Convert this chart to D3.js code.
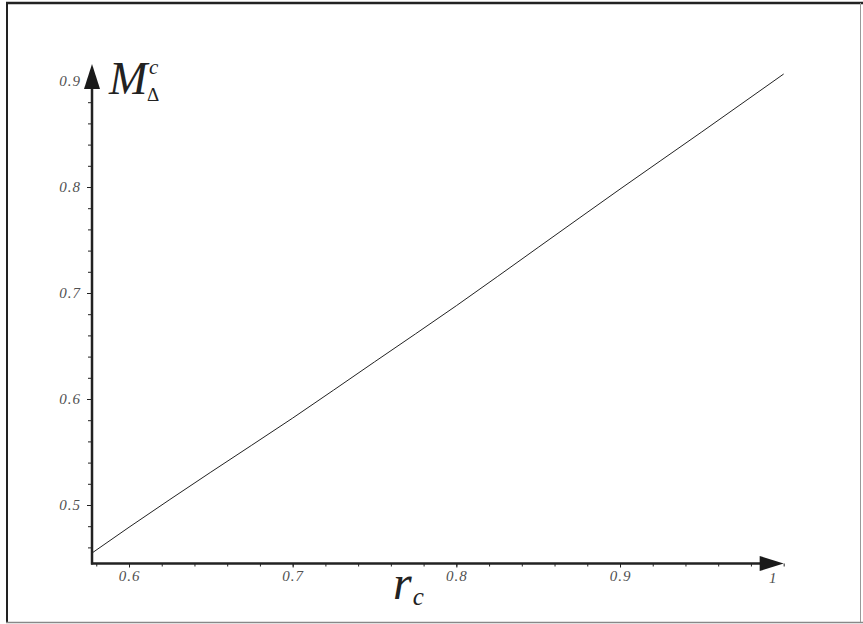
<!DOCTYPE html>
<meta charset="utf-8">
<script src="https://d3js.org/d3.v7.min.js"></script>
<style>
body { margin: 0; background: #fff; }
.tick line { stroke: #222; }
.axis path.domain { display: none; }
.ttl { font-family: "Liberation Serif", "Times New Roman", serif; fill: #222; }
</style>
<svg width="863" height="624"></svg>
<script>

// data
var rc = [0.5774, 0.6, 0.65, 0.7, 0.75, 0.8, 0.85, 0.9, 0.95, 1.0];
var mdelta = [0.4547, 0.479, 0.531, 0.582, 0.635, 0.688, 0.743, 0.798, 0.852, 0.9066];
var xTicks = [0.6, 0.7, 0.8, 0.9, 1];
var yTicks = [0.5, 0.6, 0.7, 0.8, 0.9];
var xMin = 0.5774, xMax = 1.0;
var yMin = 0.4448, yMax = 0.916;

var svg = d3.select("svg");

// frame
svg.append("line").attr("x1", 7).attr("x2", 7).attr("y1", 3).attr("y2", 622)
    .attr("stroke", "#222").attr("stroke-width", 2);
svg.append("line").attr("x1", 6).attr("x2", 863).attr("y1", 3).attr("y2", 3)
    .attr("stroke", "#222").attr("stroke-width", 2.5);
svg.append("line").attr("x1", 6).attr("x2", 863).attr("y1", 622.5).attr("y2", 622.5)
    .attr("stroke", "#888").attr("stroke-width", 1.5);
svg.append("line").attr("x1", 860.5).attr("x2", 860.5).attr("y1", 3).attr("y2", 622)
    .attr("stroke", "#999").attr("stroke-width", 1);

var x = d3.scaleLinear().domain([0.6, 0.9]).range([129, 620]);
var y = d3.scaleLinear().domain([0.5, 0.9]).range([505, 81]);

var x0 = x(xMin), y0 = y(yMin);

// minor ticks
var xMinor = d3.range(0.58, 1.001, 0.02);
var yMinor = d3.range(0.46, 0.901, 0.02);

svg.append("g").attr("class", "axis")
    .attr("transform", "translate(0," + y0 + ")")
    .call(d3.axisBottom(x).tickValues(xMinor).tickSize(3).tickFormat(""));
svg.append("g").attr("class", "axis")
    .attr("transform", "translate(" + x0 + ",0)")
    .call(d3.axisLeft(y).tickValues(yMinor).tickSize(4).tickFormat(""));

// major ticks + labels
var gx = svg.append("g").attr("class", "axis")
    .attr("transform", "translate(0," + y0 + ")")
    .call(d3.axisBottom(x).tickValues(xTicks.slice(0, 4)).tickSize(4).tickPadding(3)
      .tickFormat(d3.format(".1f")));
var gy = svg.append("g").attr("class", "axis")
    .attr("transform", "translate(" + x0 + ",0)")
    .call(d3.axisLeft(y).tickValues(yTicks).tickSize(5).tickPadding(6)
      .tickFormat(d3.format(".1f")));

[gx, gy].forEach(function(g) {
  g.attr("font-family", null).attr("font-size", null);
  g.selectAll(".tick text")
    .style("font-family", "'Liberation Serif', 'Times New Roman', serif")
    .style("font-style", "italic")
    .style("font-size", "15px")
    .style("letter-spacing", "1px")
    .style("fill", "#505050");
});

// label "1" sits under the arrow
svg.append("text")
    .attr("x", x(1) - 11).attr("y", y0 + 19)
    .attr("text-anchor", "middle")
    .style("font-family", "'Liberation Serif', 'Times New Roman', serif")
    .style("font-style", "italic").style("font-size", "15px").style("fill", "#505050")
    .text(d3.format("d")(xTicks[4]));

// axis lines with arrows
svg.append("line").attr("x1", x0 - 1).attr("x2", x(xMax) - 20).attr("y1", y0).attr("y2", y0)
    .attr("stroke", "#222").attr("stroke-width", 2.5);
svg.append("line").attr("x1", x0).attr("x2", x0).attr("y1", y0 + 1).attr("y2", y(yMax) + 20)
    .attr("stroke", "#222").attr("stroke-width", 2.5);

svg.append("path")
    .attr("d", "M" + x(xMax) + "," + y0 + "L" + (x(xMax) - 24) + "," + (y0 - 7.5) + "L" + (x(xMax) - 24) + "," + (y0 + 7.5) + "Z")
    .attr("fill", "#1a1a1a");
svg.append("path")
    .attr("d", "M" + x0 + "," + y(yMax) + "L" + (x0 - 8) + "," + (y(yMax) + 25) + "L" + (x0 + 8) + "," + (y(yMax) + 25) + "Z")
    .attr("fill", "#1a1a1a");

// the curve
var line = d3.line()
    .x(function(d, i) { return x(rc[i]); })
    .y(function(d) { return y(d); })
    .curve(d3.curveMonotoneX);

svg.append("path")
    .datum(mdelta)
    .attr("d", line)
    .attr("fill", "none")
    .attr("stroke", "#222")
    .attr("stroke-width", 1);

// axis titles
var yt = svg.append("text").attr("class", "ttl").attr("x", 109).attr("y", 94);
yt.append("tspan").style("font-style", "italic").style("font-size", "46px").text("M");
yt.append("tspan").attr("x", 149).attr("y", 74).style("font-style", "italic").style("font-size", "21px").text("c");
yt.append("tspan").attr("x", 147).attr("y", 101).style("font-size", "19px").text("Δ");

var xt = svg.append("text").attr("class", "ttl").attr("x", 393).attr("y", 599);
xt.append("tspan").style("font-style", "italic").style("font-size", "48px").text("r");
xt.append("tspan").attr("dx", 1).attr("dy", 6).style("font-style", "italic").style("font-size", "25px").text("c");

</script>
